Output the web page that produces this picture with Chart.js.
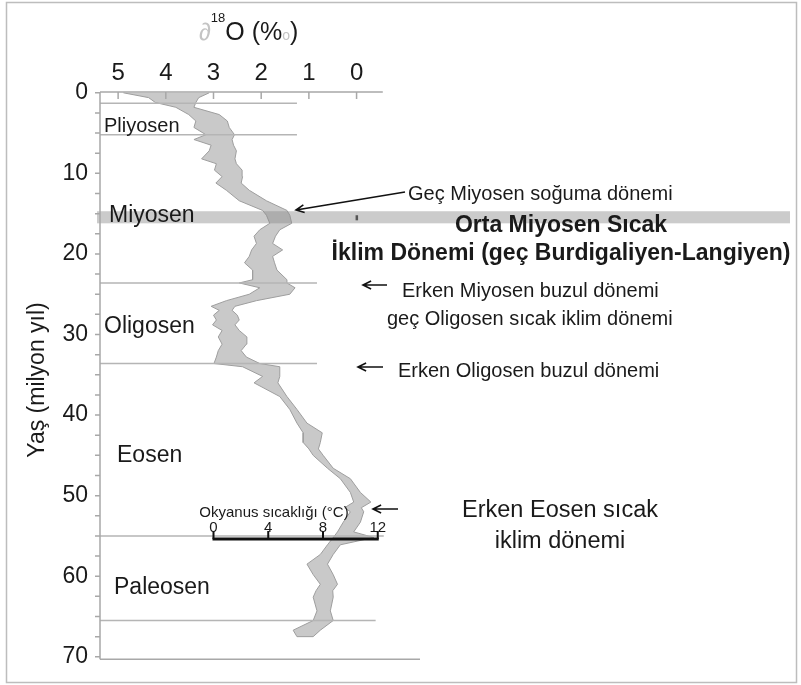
<!DOCTYPE html>
<html>
<head>
<meta charset="utf-8">
<script src="https://cdn.jsdelivr.net/npm/chart.js@4.4.0/dist/chart.umd.min.js"></script>
<style>
  html, body { margin: 0; padding: 0; background: #fff; }
  canvas { display: block; }
</style>
</head>
<body>
<canvas id="chartIzotop" width="801" height="685"></canvas>
<script>
// δ18O egrisi - yas (milyon yil) ve bandin sol/sag kenarlari (‰)
const ages = [0, 0.6, 1.2, 1.8, 2.7, 3.5, 4.3, 5.2, 5.8, 6.5, 7.2, 8.2, 8.8, 9.6, 10.4, 11.2, 12.1, 13.4,
  14.6, 15.2, 16.2, 17, 17.8, 18.7, 19.5, 20.3, 21.1, 22, 23.2, 23.6, 24.2, 25, 25.8, 26.5, 27, 27.6,
  28.2, 28.8, 29.5, 30.3, 31.2, 32, 32.8, 33.6, 34, 35.2, 36, 37.7, 39.3, 41, 42.2, 43.4, 44.2, 45,
  46.6, 47.9, 49.6, 50.8, 51.5, 52, 53.3, 54.5, 55.2, 56.1, 57.3, 58.5, 59.8, 61, 61.8, 62.6, 64.3,
  65.5, 66.7, 67.5];
const leftEdge = [4.89, 4.36, 4.22, 3.79, 3.52, 3.37, 3.41, 3.16, 3.41, 3.05, 3.09, 3.25, 2.94, 2.98, 2.82, 2.95, 2.73, 2.46,
  1.97, 1.89, 1.82, 2.03, 2.15, 2.10, 2.20, 2.25, 2.35, 2.18, 2.18, 2.46, 2.03, 2.25, 2.73, 3.05, 2.88, 3.00,
  2.94, 3.02, 2.82, 2.90, 2.82, 2.90, 2.94, 2.99, 2.39, 1.97, 2.15, 1.61, 1.40, 1.25, 1.12, 1.12, 1.00, 0.91,
  0.61, 0.34, 0.13, 0.06, 0.25, 0.13, 0.28, 0.40, 0.49, 0.61, 0.76, 1.04, 0.91, 0.76, 0.85, 0.91, 0.83,
  0.91, 1.33, 1.25];
const rightEdge = [3.09, 3.31, 3.37, 3.41, 2.88, 2.71, 2.67, 2.56, 2.61, 2.58, 2.52, 2.55, 2.52, 2.40, 2.39, 2.42, 2.25, 1.89,
  1.46, 1.40, 1.36, 1.61, 1.70, 1.76, 1.55, 1.76, 1.72, 1.67, 1.46, 1.46, 1.29, 1.40, 2.10, 2.55, 2.61, 2.50,
  2.46, 2.55, 2.46, 2.30, 2.31, 2.42, 2.31, 2.03, 1.61, 1.61, 1.65, 1.46, 1.25, 1.04, 0.72, 0.76, 0.80, 0.70,
  0.49, 0.13, -0.08, -0.30, -0.10, -0.15, -0.08, 0.06, -0.36, 0.34, 0.49, 0.61, 0.49, 0.40, 0.50, 0.49, 0.55,
  0.49, 0.76, 0.91];

const xTicks = [5, 4, 3, 2, 1, 0];
const yTicks = [0, 10, 20, 30, 40, 50, 60, 70];
const boundaryAges = [1.3, 5.2, 23.6, 33.6, 55.0, 65.5];
const warmBand = [14.7, 16.2];
const tempTicks = [0, 4, 8, 12];

const FONT = '"Liberation Sans", Arial, sans-serif';

// bandin kapali poligonu: sol kenar asagi, sag kenar yukari
const polygon = ages.map((a, i) => ({ x: leftEdge[i], y: a }))
  .concat(ages.map((a, i) => ({ x: rightEdge[i], y: a })).reverse());

function txt(ctx, s, x, y, size, opts) {
  opts = opts || {};
  ctx.save();
  ctx.font = (opts.bold ? 'bold ' : '') + size + 'px ' + FONT;
  ctx.fillStyle = opts.color || '#1a1a1a';
  ctx.textAlign = opts.align || 'left';
  ctx.textBaseline = 'alphabetic';
  ctx.fillText(s, x, y);
  ctx.restore();
}

function arrow(ctx, x1, y1, x2, y2) {
  const ang = Math.atan2(y2 - y1, x2 - x1);
  const h = 9;
  ctx.save();
  ctx.strokeStyle = '#111';
  ctx.lineWidth = 1.6;
  ctx.beginPath();
  ctx.moveTo(x1, y1);
  ctx.lineTo(x2, y2);
  ctx.moveTo(x2 - h * Math.cos(ang - 0.45), y2 - h * Math.sin(ang - 0.45));
  ctx.lineTo(x2, y2);
  ctx.lineTo(x2 - h * Math.cos(ang + 0.45), y2 - h * Math.sin(ang + 0.45));
  ctx.stroke();
  ctx.restore();
}

const decorPlugin = {
  id: 'decor',
  beforeDraw(chart) {
    const ctx = chart.ctx;
    ctx.save();
    ctx.fillStyle = '#fff';
    ctx.fillRect(0, 0, chart.width, chart.height);
    ctx.restore();
  },
  afterDraw(chart) {
    const { ctx, chartArea } = chart;
    const xs = chart.scales.x, ys = chart.scales.y;
    const L = chartArea.left, T = chartArea.top, B = chartArea.bottom, R = chartArea.right;

    // cerceve
    ctx.save();
    ctx.strokeStyle = '#bdbdbd';
    ctx.lineWidth = 1.5;
    ctx.strokeRect(6.5, 2.5, 790, 680);
    ctx.restore();

    // Orta Miyosen sicak donem bandi
    ctx.save();
    ctx.fillStyle = 'rgba(140,140,140,0.45)';
    const by1 = ys.getPixelForValue(warmBand[0]), by2 = ys.getPixelForValue(warmBand[1]);
    ctx.fillRect(97, by1, 790 - 97, by2 - by1);
    ctx.fillStyle = '#555';
    ctx.fillRect(xs.getPixelForValue(0) - 1, by1 + 4, 2.5, by2 - by1 - 7);
    ctx.restore();

    // devir sinirlari
    const lineEnds = [1.25, 1.25, 0.83, 0.83, -0.57, -0.4];
    ctx.save();
    ctx.strokeStyle = '#b5b5b5';
    ctx.lineWidth = 1.5;
    boundaryAges.forEach((a, i) => {
      const yy = ys.getPixelForValue(a);
      ctx.beginPath();
      ctx.moveTo(L, yy);
      ctx.lineTo(xs.getPixelForValue(lineEnds[i]), yy);
      ctx.stroke();
    });
    ctx.restore();

    // eksen cizgileri ve tikler
    ctx.save();
    ctx.strokeStyle = '#a8a8a8';
    ctx.lineWidth = 1.5;
    ctx.beginPath();
    ctx.moveTo(L, T); ctx.lineTo(xs.getPixelForValue(-0.55), T);
    ctx.moveTo(L, T); ctx.lineTo(L, B);
    ctx.moveTo(L, B); ctx.lineTo(R, B);
    xTicks.forEach(v => {
      const xx = xs.getPixelForValue(v);
      ctx.moveTo(xx, T); ctx.lineTo(xx, T + 7);
    });
    for (let a = 0; a <= 70; a += 2.5) {
      const yy = ys.getPixelForValue(a);
      ctx.moveTo(L - 5, yy); ctx.lineTo(L, yy);
    }
    ctx.stroke();
    ctx.restore();

    // baslik ∂18O (‰)
    ctx.save();
    let cx = 199;
    ctx.font = '24px ' + FONT;
    ctx.fillStyle = '#c4c4c4';
    ctx.fillText('∂', cx, 40); cx += ctx.measureText('∂').width;
    ctx.font = '13px ' + FONT;
    ctx.fillStyle = '#1a1a1a';
    ctx.fillText('18', cx, 22); cx += ctx.measureText('18').width;
    ctx.font = '25px ' + FONT;
    ctx.fillText('O (%', cx, 40); cx += ctx.measureText('O (%').width;
    ctx.font = '14px ' + FONT;
    ctx.fillStyle = '#c4c4c4';
    ctx.fillText('o', cx, 40); cx += ctx.measureText('o').width;
    ctx.font = '25px ' + FONT;
    ctx.fillStyle = '#1a1a1a';
    ctx.fillText(')', cx, 40);
    ctx.restore();

    // y ekseni basligi
    ctx.save();
    ctx.translate(44, 380);
    ctx.rotate(-Math.PI / 2);
    txt(ctx, 'Yaş (milyon yıl)', 0, 0, 23, { align: 'center' });
    ctx.restore();

    // devir adlari
    txt(ctx, 'Pliyosen', 104, 132, 20);
    txt(ctx, 'Miyosen', 109, 222, 23);
    txt(ctx, 'Oligosen', 104, 333, 23);
    txt(ctx, 'Eosen', 117, 462, 23);
    txt(ctx, 'Paleosen', 114, 594, 23);

    // aciklamalar
    txt(ctx, 'Geç Miyosen soğuma dönemi', 408, 200, 20);
    arrow(ctx, 405, 192, 296, 210);
    txt(ctx, 'Orta Miyosen Sıcak', 561, 232, 23, { bold: true, align: 'center' });
    txt(ctx, 'İklim Dönemi (geç Burdigaliyen-Langiyen)', 561, 260, 23, { bold: true, align: 'center' });

    txt(ctx, 'Erken Miyosen buzul dönemi', 402, 297, 20);
    arrow(ctx, 387, 285, 363, 285);
    txt(ctx, 'geç Oligosen sıcak iklim dönemi', 387, 325, 20);

    txt(ctx, 'Erken Oligosen buzul dönemi', 398, 377, 20);
    arrow(ctx, 383, 367, 358, 367);

    arrow(ctx, 398, 509, 373, 509);
    txt(ctx, 'Erken Eosen sıcak', 560, 517, 23.5, { align: 'center' });
    txt(ctx, 'iklim dönemi', 560, 548, 23.5, { align: 'center' });

    // okyanus sicakligi olcegi
    const tx = t => xs.getPixelForValue(3 - t * 0.287);
    const barY = 539;
    txt(ctx, 'Okyanus sıcaklığı (°C)', 274, 517, 15, { align: 'center' });
    ctx.save();
    ctx.strokeStyle = '#111';
    ctx.lineWidth = 3;
    ctx.beginPath();
    ctx.moveTo(tx(0) - 1, barY); ctx.lineTo(tx(12) + 1, barY);
    ctx.stroke();
    ctx.lineWidth = 2;
    ctx.beginPath();
    tempTicks.forEach(t => { ctx.moveTo(tx(t), barY); ctx.lineTo(tx(t), barY - 8); });
    ctx.stroke();
    ctx.restore();
    tempTicks.forEach(t => txt(ctx, String(t), tx(t), 532, 15, { align: 'center' }));
  }
};

document.addEventListener('DOMContentLoaded', function () {
  const el = document.getElementById('chartIzotop');
  new Chart(el, {
    type: 'scatter',
    data: {
      datasets: [{
        data: polygon,
        showLine: true,
        fill: 'shape',
        backgroundColor: '#c9c9c9',
        borderColor: '#9e9e9e',
        borderWidth: 1,
        pointRadius: 0,
        tension: 0
      }]
    },
    options: {
      responsive: false,
      animation: false,
      events: [],
      layout: { padding: { left: 0, top: 0, right: 381, bottom: 20 } },
      plugins: { legend: { display: false }, tooltip: { enabled: false } },
      scales: {
        x: {
          type: 'linear',
          position: 'top',
          reverse: true,
          min: -1.33,
          max: 5.38,
          grid: { display: false, drawTicks: false },
          border: { display: false },
          afterBuildTicks: s => { s.ticks = xTicks.map(v => ({ value: v })); },
          afterFit: s => { s.height = 92; },
          ticks: { padding: 4, color: '#1a1a1a', font: { family: FONT, size: 24 } }
        },
        y: {
          type: 'linear',
          position: 'left',
          reverse: true,
          min: -0.1,
          max: 70.3,
          grid: { display: false, drawTicks: false },
          border: { display: false },
          afterBuildTicks: s => { s.ticks = yTicks.map(v => ({ value: v })); },
          afterFit: s => { s.width = 100; },
          ticks: { padding: 12, color: '#1a1a1a', font: { family: FONT, size: 23 } }
        }
      }
    },
    plugins: [decorPlugin]
  });
});
</script>
</body>
</html>
